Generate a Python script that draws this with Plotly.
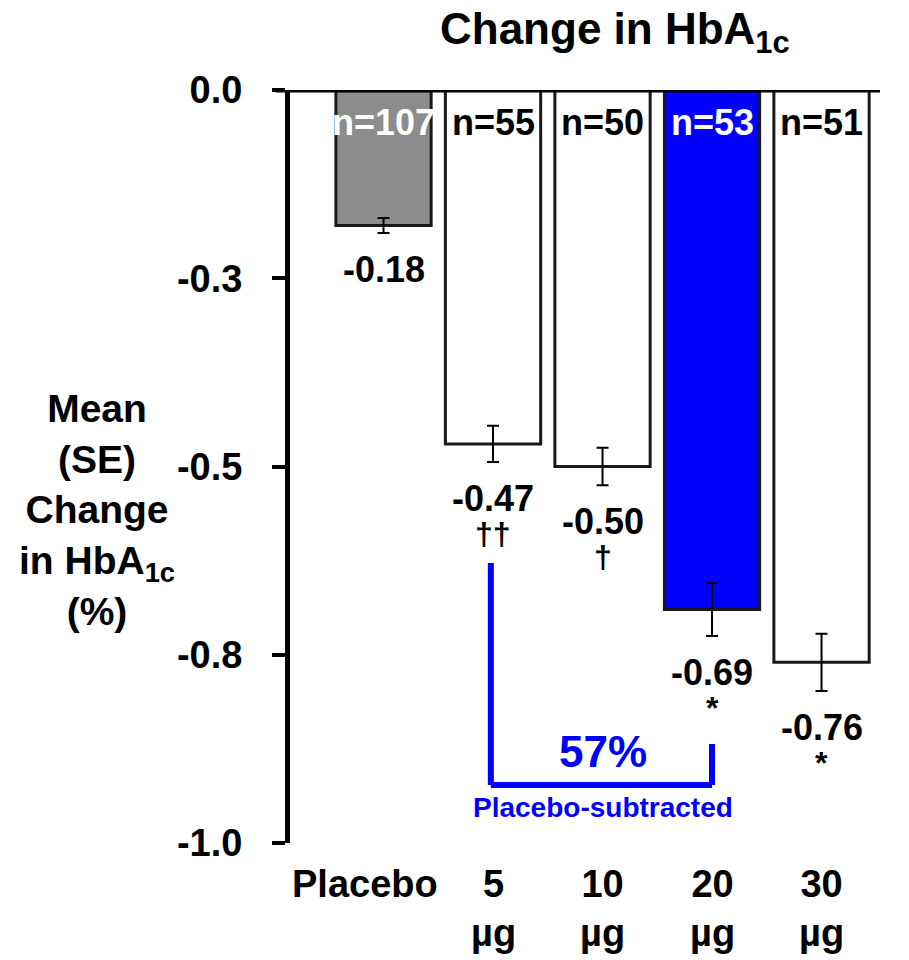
import plotly.graph_objects as go

# ---- data ----
categories = ["Placebo", "5 µg", "10 µg", "20 µg", "30 µg"]
x_labels = ["Placebo", "5<br>µg", "10<br>µg", "20<br>µg", "30<br>µg"]
mean_change = [-0.18, -0.47, -0.50, -0.69, -0.76]
se = [0.010, 0.024, 0.025, 0.035, 0.038]
value_labels = ["-0.18", "-0.47", "-0.50", "-0.69", "-0.76"]
sig_marks = ["", "††", "†", "*", "*"]
n_labels = ["n=107", "n=55", "n=50", "n=53", "n=51"]
bar_colors = ["#8C8C8C", "#FFFFFF", "#FFFFFF", "#0000FF", "#FFFFFF"]
n_colors = ["#FFFFFF", "#000000", "#000000", "#FFFFFF", "#000000"]
y_tickvals = [0, -0.25, -0.5, -0.75, -1.0]
y_ticktext = ["0.0", "-0.3", "-0.5", "-0.8", "-1.0"]
chart_title = "Change in HbA<sub>1c</sub>"
bracket_label = "57%"
bracket_sublabel = "Placebo-subtracted"

FONT = "Liberation Sans, Arial, sans-serif"
BLUE = "#0000FF"

fig = go.Figure()
fig.add_trace(go.Bar(
    x=categories,
    y=mean_change,
    width=0.87,
    marker=dict(color=bar_colors, line=dict(color="#1a1a1a", width=3)),
    error_y=dict(type="data", array=se, visible=True, color="black", thickness=2, width=6),
    showlegend=False,
    hoverinfo="skip",
))

ann = []
# title
ann.append(dict(x=615, y=2, xref="paper", yref="paper", text=chart_title, showarrow=False,
                xanchor="center", yanchor="top",
                font=dict(family=FONT, size=44, color="black", weight="bold")))
# n labels inside bars
for c, t, col in zip(categories, n_labels, n_colors):
    ann.append(dict(x=c, y=-0.0425, xref="x", yref="y", text=t, showarrow=False,
                    yanchor="middle", font=dict(family=FONT, size=36, color=col, weight="bold")))
# value labels + significance marks
for c, v, s, lab, mk in zip(categories, mean_change, se, value_labels, sig_marks):
    ann.append(dict(x=c, y=v - s, xref="x", yref="y", text=lab, showarrow=False,
                    yanchor="top", yshift=-14,
                    font=dict(family=FONT, size=36, color="black", weight="bold")))
    if mk:
        ann.append(dict(x=c, y=v - s, xref="x", yref="y", text=mk, showarrow=False,
                        yanchor="top", yshift=-52,
                        font=dict(family=FONT, size=32, color="black", weight="bold")))
# x category labels
for i, (c, lab) in enumerate(zip(categories, x_labels)):
    ann.append(dict(x=c, y=0, xref="x", yref="paper", text=lab, showarrow=False,
                    yanchor="top", yshift=-18, xshift=(-19 if i == 0 else 0),
                    font=dict(family=FONT, size=38, color="black", weight="bold")))
# y axis title
ann.append(dict(x=-0.327, y=0.442, xref="paper", yref="paper",
                text="Mean<br>(SE)<br>Change<br>in HbA<sub>1c</sub><br>(%)",
                showarrow=False, xanchor="center", yanchor="middle",
                font=dict(family=FONT, size=39, color="black", weight="bold")))
# bracket labels
ann.append(dict(x="10 µg", y=-0.878, xref="x", yref="y", text=bracket_label, showarrow=False,
                yanchor="middle", font=dict(family=FONT, size=44, color=BLUE, weight="bold")))
ann.append(dict(x="10 µg", y=-0.9535, xref="x", yref="y", text=bracket_sublabel, showarrow=False,
                yanchor="middle", font=dict(family=FONT, size=28, color=BLUE, weight="bold")))

# convert the title's pixel anchor into paper coordinates
L, R, T, B, W, H = 290, 29, 90, 117, 909, 960
ann[0]["x"] = (615 - L) / (W - L - R)
ann[0]["y"] = (H - B - 2) / (H - T - B)

shapes = [
    # top zero line
    dict(type="line", xref="paper", yref="y", x0=-0.024, x1=1.0, y0=0, y1=0,
         line=dict(color="black", width=5)),
    # bracket
    dict(type="line", xref="x", yref="y", x0=0.98, x1=0.98, y0=-0.628, y1=-0.923,
         line=dict(color=BLUE, width=6)),
    dict(type="line", xref="x", yref="y", x0=0.98, x1=3.0, y0=-0.923, y1=-0.923,
         line=dict(color=BLUE, width=6)),
    dict(type="line", xref="x", yref="y", x0=3.0, x1=3.0, y0=-0.8685, y1=-0.923,
         line=dict(color=BLUE, width=6)),
]

fig.update_layout(
    width=W, height=H,
    margin=dict(l=L, r=R, t=T, b=B),
    paper_bgcolor="white", plot_bgcolor="white",
    annotations=ann,
    shapes=shapes,
    xaxis=dict(range=[-0.854, 4.534], showticklabels=False, showline=False,
               showgrid=False, zeroline=False, ticks=""),
    yaxis=dict(range=[-1.0, 0.0], tickvals=y_tickvals, ticktext=y_ticktext,
               showline=True, linecolor="black", linewidth=5,
               ticks="outside", ticklen=13, tickwidth=4, tickcolor="black",
               ticklabelstandoff=22,
               tickfont=dict(family=FONT, size=38, color="black", weight="bold"),
               showgrid=False, zeroline=False),
    bargap=0.13,
)

fig.write_html("out.html")
